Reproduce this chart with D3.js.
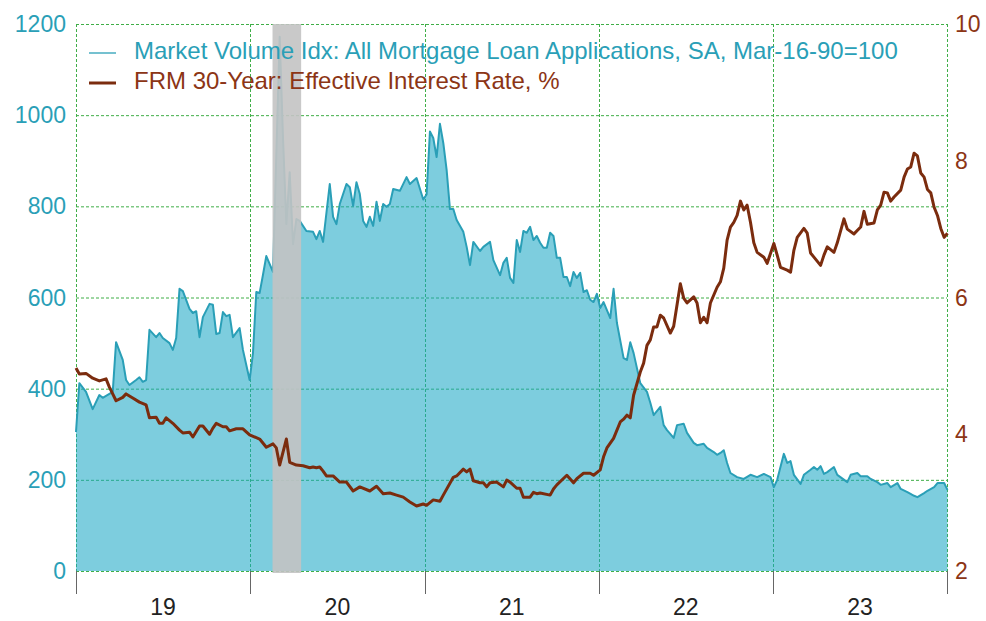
<!DOCTYPE html>
<html>
<head>
<meta charset="utf-8">
<script src="https://cdn.jsdelivr.net/npm/d3@7"></script>
<style>
  html, body { margin: 0; padding: 0; background: #fff; }
  svg { display: block; font-family: "Liberation Sans", Arial, sans-serif; }
</style>
</head>
<body>
<svg id="chart" width="986" height="621"></svg>
<script>
// weekly readings: [weeks since 2019-01-01, value]
var volume = [[0,305],[1,412],[3,393],[5,355],[7,386],[8,380],[11,393],[12,502],[14,463],[15,419],[16,408],[18,419],[19,425],[20,415],[21,419],[22,529],[24,513],[25,522],[26,511],[28,500],[29,485],[30,511],[31,619],[32,614],[34,575],[35,566],[36,570],[37,513],[38,557],[40,586],[41,584],[42,520],[43,522],[44,568],[45,559],[46,562],[47,513],[49,533],[50,485],[52,419],[53,478],[54,612],[55,610],[56,650],[57,691],[59,656],[61,1172],[62,950],[63,761],[64,875],[65,717],[66,772],[67,768],[69,746],[71,744],[72,728],[73,746],[74,722],[76,849],[77,777],[78,761],[79,805],[81,849],[82,842],[83,801],[84,853],[85,827],[86,768],[87,755],[88,777],[89,757],[90,810],[91,768],[92,805],[93,799],[94,805],[95,838],[97,834],[99,864],[100,849],[102,862],[104,815],[105,826],[106,964],[107,950],[108,908],[109,981],[110,939],[111,880],[112,794],[113,794],[114,770],[116,744],[117,711],[118,671],[119,722],[121,702],[122,711],[124,722],[125,682],[127,649],[128,676],[129,687],[130,643],[131,632],[132,726],[133,700],[134,746],[135,742],[136,755],[137,726],[138,735],[139,720],[140,709],[141,709],[142,742],[143,735],[144,687],[145,687],[146,645],[147,645],[148,625],[149,656],[150,643],[151,654],[152,612],[153,616],[154,595],[155,590],[156,608],[157,577],[158,590],[160,555],[161,619],[162,544],[164,467],[165,463],[166,502],[167,478],[169,412],[171,393],[172,369],[173,342],[175,360],[176,320],[177,309],[179,292],[180,320],[182,323],[183,303],[185,281],[186,276],[188,279],[189,270],[191,261],[192,255],[193,259],[194,265],[195,237],[196,215],[198,206],[200,202],[202,211],[204,206],[206,213],[208,206],[209,184],[210,200],[212,257],[213,237],[214,241],[215,211],[217,191],[218,211],[220,222],[221,228],[222,222],[223,230],[224,213],[225,217],[227,228],[228,211],[231,195],[232,211],[234,215],[235,208],[237,208],[238,202],[240,195],[241,189],[243,193],[244,184],[246,193],[247,180],[249,173],[251,165],[252,162],[254,171],[255,176],[257,184],[258,193],[260,193],[261,178]];

var rate = [[0,4.97],[1,4.88],[3,4.89],[5,4.82],[7,4.78],[9,4.81],[10,4.69],[12,4.49],[14,4.54],[15,4.59],[17,4.53],[19,4.47],[21,4.43],[22,4.24],[24,4.25],[25,4.16],[26,4.16],[27,4.24],[29,4.16],[31,4.06],[32,4.02],[34,4.03],[35,3.96],[37,4.12],[38,4.12],[40,4.00],[41,4.09],[42,4.16],[44,4.11],[45,4.11],[46,4.05],[48,4.08],[50,4.08],[52,3.99],[55,3.93],[57,3.81],[59,3.86],[60,3.80],[61,3.55],[63,3.93],[64,3.59],[66,3.55],[68,3.54],[70,3.51],[71,3.52],[72,3.51],[73,3.52],[74,3.46],[75,3.39],[77,3.39],[79,3.30],[81,3.30],[83,3.17],[85,3.23],[88,3.17],[90,3.24],[92,3.13],[94,3.14],[96,3.11],[98,3.08],[100,3.01],[102,2.95],[104,2.98],[105,2.96],[107,3.04],[109,3.02],[110,3.11],[113,3.37],[114,3.39],[116,3.49],[117,3.45],[118,3.49],[119,3.32],[121,3.29],[122,3.29],[123,3.23],[124,3.29],[126,3.30],[128,3.23],[129,3.33],[130,3.30],[132,3.21],[133,3.21],[134,3.08],[136,3.08],[137,3.15],[138,3.13],[139,3.14],[142,3.11],[143,3.20],[144,3.26],[147,3.40],[149,3.29],[150,3.35],[152,3.43],[154,3.43],[155,3.40],[157,3.48],[158,3.67],[159,3.80],[160,3.87],[161,3.94],[163,4.18],[164,4.22],[165,4.28],[166,4.24],[167,4.57],[169,4.91],[170,5.04],[171,5.30],[172,5.38],[173,5.57],[174,5.57],[175,5.74],[176,5.70],[178,5.48],[179,5.58],[181,6.20],[182,5.99],[183,5.92],[185,6.01],[186,5.92],[187,5.63],[188,5.71],[189,5.63],[190,5.92],[192,6.15],[193,6.23],[194,6.43],[195,6.84],[196,7.03],[197,7.10],[198,7.20],[199,7.41],[200,7.28],[201,7.35],[202,7.10],[203,6.80],[204,6.66],[206,6.59],[207,6.50],[209,6.79],[210,6.62],[211,6.44],[213,6.40],[214,6.37],[215,6.69],[216,6.88],[218,7.01],[219,6.94],[220,6.65],[221,6.59],[223,6.47],[224,6.62],[225,6.74],[227,6.66],[228,6.80],[230,7.15],[231,7.00],[233,6.93],[235,7.03],[236,7.26],[237,7.07],[239,7.09],[240,7.28],[241,7.35],[242,7.54],[243,7.53],[244,7.41],[245,7.47],[247,7.57],[248,7.76],[249,7.88],[250,7.91],[251,8.11],[252,8.07],[253,7.82],[254,7.76],[255,7.58],[256,7.53],[257,7.32],[258,7.20],[259,7.01],[260,6.88],[261,6.94]];

var yearLabels = ['19', '20', '21', '22', '23'];
var volumeTicks = [0, 200, 400, 600, 800, 1000, 1200];
var rateTicks = [2, 4, 6, 8, 10];
var recession = ['2020-02-17', '2020-04-17'];
var legendLabels = [
  'Market Volume Idx: All Mortgage Loan Applications, SA, Mar-16-90=100',
  'FRM 30-Year: Effective Interest Rate, %'
];

var width = 986;
var height = 621;
var margin = {top: 24, right: 39, bottom: 50, left: 76};

var teal = '#2a9fb7';
var brown = '#7b2c0e';
var grid = '#3fae47';

var start = new Date(2019, 0, 1);
var end = new Date(2024, 0, 1);
var parse = d3.timeParse('%Y-%m-%d');

function weekDate(w) {
  return d3.timeDay.offset(start, w * 7);
}

var x = d3.scaleTime()
  .domain([start, end])
  .range([margin.left, width - margin.right]);

var yLeft = d3.scaleLinear()
  .domain([0, 1200])
  .range([height - margin.bottom, margin.top]);

var yRight = d3.scaleLinear()
  .domain([2, 10])
  .range([height - margin.bottom, margin.top]);

var svg = d3.select('#chart');

var years = d3.timeYear.range(start, d3.timeDay.offset(end, 1));

// grid first, the area is translucent over it
svg.append('g')
  .attr('class', 'grid-y')
  .selectAll('line')
  .data(volumeTicks)
  .enter()
  .append('line')
  .attr('x1', x.range()[0])
  .attr('x2', x.range()[1])
  .attr('y1', function (d) { return yLeft(d) + 0.5; })
  .attr('y2', function (d) { return yLeft(d) + 0.5; })
  .attr('stroke', grid)
  .attr('stroke-dasharray', '3,2');

svg.append('g')
  .attr('class', 'grid-x')
  .selectAll('line')
  .data(years)
  .enter()
  .append('line')
  .attr('x1', function (d) { return Math.round(x(d)) + 0.5; })
  .attr('x2', function (d) { return Math.round(x(d)) + 0.5; })
  .attr('y1', yLeft.range()[1])
  .attr('y2', yLeft.range()[0])
  .attr('stroke', grid)
  .attr('stroke-dasharray', '3,2');

var area = d3.area()
  .x(function (d) { return x(weekDate(d[0])); })
  .y0(yLeft(0))
  .y1(function (d) { return yLeft(d[1]); });

var volumeLine = d3.line()
  .x(function (d) { return x(weekDate(d[0])); })
  .y(function (d) { return yLeft(d[1]); });

var rateLine = d3.line()
  .x(function (d) { return x(weekDate(d[0])); })
  .y(function (d) { return yRight(d[1]); });

svg.append('path')
  .attr('class', 'volume-area')
  .attr('d', area(volume))
  .attr('fill', '#17a6c4')
  .attr('fill-opacity', 0.56);

svg.append('path')
  .attr('class', 'volume-line')
  .attr('d', volumeLine(volume))
  .attr('fill', 'none')
  .attr('stroke', teal)
  .attr('stroke-width', 2)
  .attr('stroke-linejoin', 'round');

svg.append('rect')
  .attr('class', 'recession')
  .attr('x', x(parse(recession[0])))
  .attr('width', x(parse(recession[1])) - x(parse(recession[0])))
  .attr('y', yLeft.range()[1])
  .attr('height', yLeft.range()[0] - yLeft.range()[1] + 2)
  .attr('fill', '#c3c3c3')
  .attr('fill-opacity', 0.9);

svg.append('path')
  .attr('class', 'rate-line')
  .attr('d', rateLine(rate))
  .attr('fill', 'none')
  .attr('stroke', brown)
  .attr('stroke-width', 3)
  .attr('stroke-linejoin', 'round');

// left axis
svg.append('g')
  .attr('class', 'axis-left')
  .selectAll('text')
  .data(volumeTicks)
  .enter()
  .append('text')
  .attr('x', margin.left - 10)
  .attr('y', function (d) { return yLeft(d); })
  .attr('dy', '0.35em')
  .attr('text-anchor', 'end')
  .attr('fill', teal)
  .attr('font-size', 23)
  .text(function (d) { return d; });

// right axis
svg.append('g')
  .attr('class', 'axis-right')
  .selectAll('text')
  .data(rateTicks)
  .enter()
  .append('text')
  .attr('x', width - margin.right + 8)
  .attr('y', function (d) { return yRight(d); })
  .attr('dy', '0.35em')
  .attr('fill', '#8c3515')
  .attr('font-size', 23)
  .text(function (d) { return d; });

// bottom ticks and year labels
svg.append('g')
  .attr('class', 'axis-bottom')
  .selectAll('line')
  .data(years)
  .enter()
  .append('line')
  .attr('x1', function (d) { return Math.round(x(d)) + 0.5; })
  .attr('x2', function (d) { return Math.round(x(d)) + 0.5; })
  .attr('y1', yLeft(0))
  .attr('y2', yLeft(0) + 23)
  .attr('stroke', '#666');

svg.select('.axis-bottom')
  .selectAll('text')
  .data(yearLabels)
  .enter()
  .append('text')
  .attr('x', function (d, i) { return (x(years[i]) + x(years[i + 1])) / 2; })
  .attr('y', 615)
  .attr('text-anchor', 'middle')
  .attr('fill', '#222')
  .attr('font-size', 23)
  .text(function (d) { return d; });

// legend
var legend = svg.append('g')
  .attr('class', 'legend')
  .attr('transform', 'translate(89,53)');

var legendItems = legend.selectAll('g')
  .data(legendLabels)
  .enter()
  .append('g')
  .attr('transform', function (d, i) { return 'translate(0,' + (i * 30) + ')'; });

legendItems.append('line')
  .attr('x1', 0)
  .attr('x2', 27)
  .attr('stroke', function (d, i) { return i ? brown : teal; })
  .attr('stroke-width', function (d, i) { return i ? 3 : 1.3; });

legendItems.append('text')
  .attr('x', 45)
  .attr('y', 6)
  .attr('fill', function (d, i) { return i ? '#8c3515' : teal; })
  .attr('font-size', 24)
  .text(function (d) { return d; });
</script>
</body>
</html>
